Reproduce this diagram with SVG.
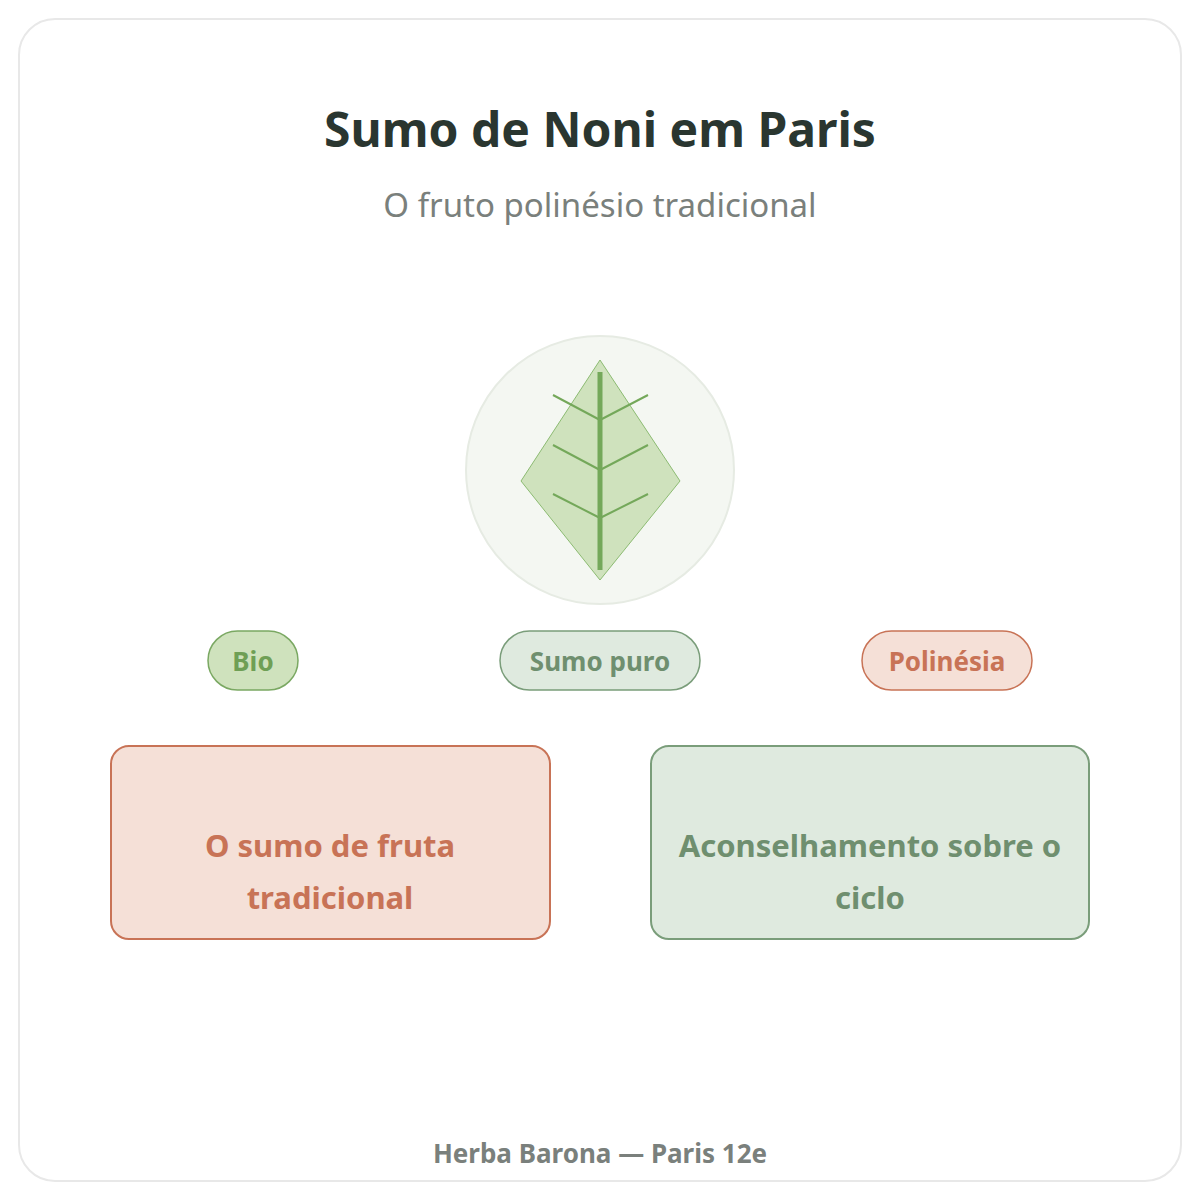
<svg xmlns="http://www.w3.org/2000/svg" width="1200" height="1200" viewBox="0 0 1200 1200">
<style>
text{font-family:"Noto Sans","Open Sans","Liberation Sans",sans-serif;text-anchor:middle}
.pill{font-size:26px;font-weight:bold}
.box{font-size:31px;font-weight:bold}
.vein{stroke:#74a85a;stroke-width:2;fill:none}
</style>
<rect x="19" y="19" width="1162" height="1162" rx="36" fill="#fff" stroke="#e8e8e8" stroke-width="2"/>
<text x="600" y="147" font-size="48" font-weight="bold" fill="#2a3630">Sumo de Noni em Paris</text>
<text x="600" y="217" font-size="33" fill="#7a807c">O fruto polinésio tradicional</text>
<g id="leaf">
<circle cx="600" cy="470" r="134" fill="#f4f7f2" stroke="#e6ebe3" stroke-width="2"/>
<polygon points="600,360 680,481 600,580 521,481" fill="#cfe2bd" stroke="#8cbb72" stroke-width="1"/>
<line x1="600" y1="372" x2="600" y2="570" stroke="#74a85a" stroke-width="5"/>
<path class="vein" d="M600 420L553 395M600 420L648 395M600 470L553 445M600 470L648 445M600 518L553 494M600 518L648 494"/>
</g>
<g id="bio"><rect x="208" y="631" width="90" height="59" rx="29.5" fill="#cfe2bd" stroke="#7aa862" stroke-width="1.5"/><text class="pill" x="253" y="671" fill="#6f9f55">Bio</text></g>
<g id="sumo"><rect x="500" y="631" width="200" height="59" rx="29.5" fill="#dfeadf" stroke="#7a9d7a" stroke-width="1.5"/><text class="pill" x="600" y="671" fill="#6f8f6f">Sumo puro</text></g>
<g id="poli"><rect x="862" y="631" width="170" height="59" rx="29.5" fill="#f5e0d7" stroke="#c87356" stroke-width="1.5"/><text class="pill" x="947" y="671" fill="#c87356">Polinésia</text></g>
<g id="box1"><rect x="111" y="746" width="439" height="193" rx="18" fill="#f5e0d7" stroke="#c87356" stroke-width="2"/><text class="box" x="330" y="857" fill="#c87356">O sumo de fruta</text><text class="box" x="330" y="909" fill="#c87356">tradicional</text></g>
<g id="box2"><rect x="651" y="746" width="438" height="193" rx="18" fill="#dfeadf" stroke="#7a9d7a" stroke-width="2"/><text class="box" x="870" y="857" fill="#6f8f6f">Aconselhamento sobre o</text><text class="box" x="870" y="909" fill="#6f8f6f">ciclo</text></g>
<g id="connectors"/>
<text x="600" y="1163" font-size="26" font-weight="bold" fill="#7a807c">Herba Barona — Paris 12e</text>
</svg>
